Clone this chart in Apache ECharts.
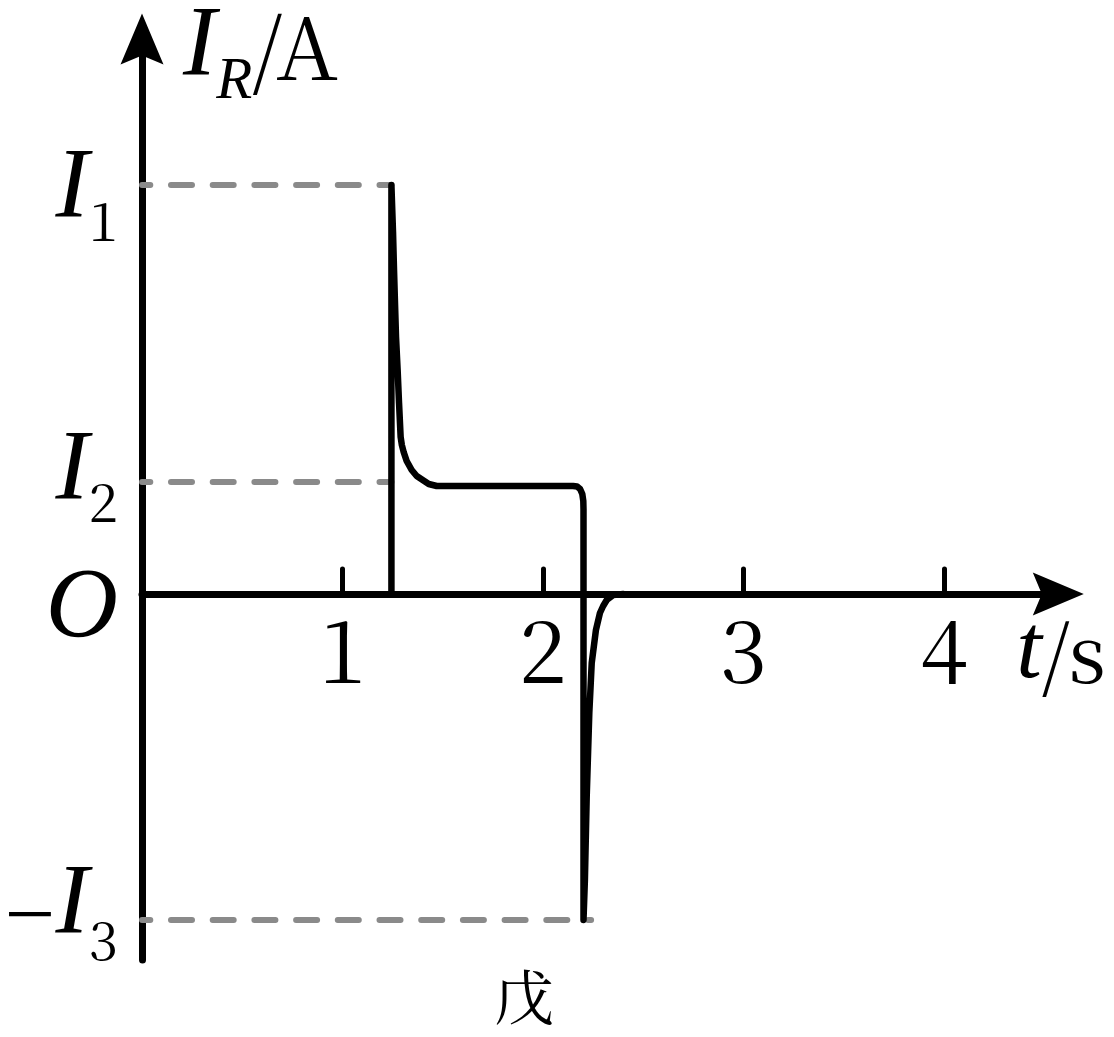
<!DOCTYPE html>
<html>
<head>
<meta charset="utf-8">
<script src="https://cdn.jsdelivr.net/npm/echarts@6/dist/echarts.min.js"></script>
<style>
  html, body { margin: 0; padding: 0; background: #ffffff; }
  #chart { width: 1114px; height: 1037px; }
</style>
</head>
<body>
<div id="chart"></div>
<script>
// ---- data ----
const xTickValues = [1, 2, 3, 4];
const xTickLabels = ['1', '2', '3', '4'];
const yTickValues = [4.09, 1.12, 0, -3.26];
const yTickLabels = ['I1', 'I2', 'O', '−I3'];
const xAxisName = 't/s';
const yAxisName = 'IR/A';
const figureTitle = '戊';

const curveT = [1.244, 1.244, 1.252, 1.257, 1.262, 1.267, 1.275, 1.282, 1.290, 1.296, 1.305, 1.320, 1.345, 1.370, 1.400, 1.430, 1.470,
                2.150, 2.170, 2.185, 2.196, 2.201, 2.202, 2.202,
                2.209, 2.218, 2.231, 2.243, 2.264, 2.284, 2.300, 2.318, 2.351, 2.400];
const curveI = [0, 4.09, 3.62, 3.24, 2.90, 2.57, 2.24, 1.91, 1.57, 1.49, 1.42, 1.33, 1.24, 1.18, 1.14, 1.10, 1.08,
                1.08, 1.075, 1.05, 1.00, 0.93, 0.85, -3.26,
                -2.86, -2.03, -1.19, -0.69, -0.36, -0.19, -0.12, -0.06, -0.01, 0];

const dashI1 = [[0, 4.09], [1.244, 4.09]];
const dashI2 = [[0, 1.12], [1.244, 1.12]];
const dashI3 = [[0, -3.26], [2.24, -3.26]];

// ---- chart ----
const serifItalic = 'Liberation Serif';
const serifUpright = 'Noto Serif CJK SC';
const chart = echarts.init(document.getElementById('chart'), null, { renderer: 'canvas' });

const arrowPath = 'path://M0,0 L21.5,51 L0,42 L-21.5,51 Z';

const yMin = -3.66, yMax = 5.55, pxPerY = 100;
const xMax = 4.57, pxPerX = 200.5;

function yLabelFormatter(value) {
  let idx = -1;
  for (let k = 0; k < yTickValues.length; k++) {
    if (Math.abs(yTickValues[k] - value) < 1e-6) idx = k;
  }
  if (idx < 0) return '';
  const lab = yTickLabels[idx];
  if (lab === 'O') return '{o|O}';
  if (lab.charAt(0) === '−') return '{mu|−}{iv|I}{su|' + lab.slice(2) + '}';
  if (idx === 0) return '{i|I}{s|' + lab.slice(1) + '}';
  return '{iu|I}{su|' + lab.slice(1) + '}';
}

const dashStyle = {
  color: '#8a8a8a', width: 6, type: [21, 20.7], dashOffset: 12.7, cap: 'round'
};

function xy(ts, is) { return ts.map((t, k) => [t, is[k]]); }

const zeroToBottom = (0 - yMin) * pxPerY;

function roman(size, extra) {
  return Object.assign({ fontFamily: serifUpright, fontWeight: 'normal', fontSize: size, color: '#000' }, extra || {});
}
function italic(size, extra) {
  return Object.assign({ fontFamily: serifItalic, fontStyle: 'italic', fontWeight: 'normal', fontSize: size, color: '#000' }, extra || {});
}

const option = {
  backgroundColor: '#ffffff',
  animation: false,
  title: {
    text: figureTitle,
    left: 519,
    top: 962,
    textAlign: 'center',
    textStyle: { fontFamily: 'Noto Serif CJK SC', fontSize: 60, fontWeight: 'normal', color: '#000' }
  },
  grid: {
    left: 142, top: 39, width: xMax * pxPerX, height: (yMax - yMin) * pxPerY,
    containLabel: false, outerBoundsMode: 'none'
  },
  xAxis: {
    type: 'value', min: 0, max: xMax, interval: 1,
    splitLine: { show: false },
    axisLine: {
      show: true, onZero: true,
      symbol: ['none', arrowPath], symbolSize: [43, 51],
      lineStyle: { color: '#000', width: 7 }
    },
    axisTick: {
      show: true, inside: true, length: 25, customValues: xTickValues,
      lineStyle: { color: '#000', width: 5, cap: 'round' }
    },
    axisLabel: {
      show: true, customValues: xTickValues, margin: 6 - zeroToBottom,
      hideOverlap: false,
      formatter: (v) => { const k = xTickValues.indexOf(v); return k >= 0 ? '{d|' + xTickLabels[k] + '}' : ''; },
      verticalAlign: 'top',
      fontFamily: serifUpright, fontWeight: 'normal', fontSize: 86, color: '#000',
      rich: { d: roman(86, { lineHeight: 100 }) }
    },
    name: xAxisName, nameLocation: 'end', nameGap: -42,
    nameTextStyle: {
      align: 'left', verticalAlign: 'middle', padding: [118, 0, 0, 0],
      fontFamily: serifUpright, fontWeight: 'normal',
      rich: { t: italic(92), n: roman(80) }
    }
  },
  yAxis: {
    type: 'value', min: yMin, max: yMax,
    splitLine: { show: false },
    axisLine: {
      show: true,
      symbol: ['none', arrowPath], symbolSize: [43, 51],
      lineStyle: { color: '#000', width: 7 }
    },
    axisTick: { show: false },
    axisLabel: {
      show: true, customValues: yTickValues, margin: 24,
      formatter: yLabelFormatter,
      fontFamily: serifUpright, fontWeight: 'normal',
      rich: {
        i: italic(100, { lineHeight: 100, padding: [10, 0, 0, 0] }),
        s: roman(53, { lineHeight: 60, padding: [72, 0, 0, 0] }),
        iu: italic(100, { lineHeight: 100, padding: [0, 0, 20, 0] }),
        iv: italic(100, { lineHeight: 100, padding: [0, 0, 28, 0] }),
        su: roman(53, { lineHeight: 60, padding: [40, 0, 0, 0] }),
        mu: italic(90, { fontStyle: 'normal', lineHeight: 100 }),
        o: italic(100, { lineHeight: 100, padding: [32, 0, 0, 0] })
      }
    },
    name: '', nameLocation: 'end', nameGap: -16,
    nameTextStyle: {
      align: 'left', verticalAlign: 'middle', padding: [0, 0, 0, 41],
      fontFamily: serifUpright, fontWeight: 'normal',
      rich: {
        i: italic(100, { lineHeight: 80, padding: [0, 0, 14.5, 0] }),
        s: italic(59, { lineHeight: 40, padding: [54.5, 0, 0, 0] }),
        n: roman(86, { lineHeight: 80, padding: [0, 0, 14.5, 0] })
      }
    }
  },
  series: [
    { type: 'line', data: dashI1, showSymbol: false, silent: true, z: 1, lineStyle: dashStyle },
    { type: 'line', data: dashI2, showSymbol: false, silent: true, z: 1, lineStyle: dashStyle },
    { type: 'line', data: dashI3, showSymbol: false, silent: true, z: 1, lineStyle: dashStyle },
    {
      type: 'line', data: xy(curveT, curveI), showSymbol: false, silent: true, z: 3,
      lineStyle: { color: '#000', width: 6.5, join: 'round', cap: 'round' }
    }
  ]
};
option.xAxis.name = '{t|' + xAxisName.charAt(0) + '}{n|' + xAxisName.slice(1) + '}';
option.yAxis.name = '{i|' + yAxisName.charAt(0) + '}{s|' + yAxisName.charAt(1) + '}{n|' + yAxisName.slice(2) + '}';
chart.setOption(option);
</script>
</body>
</html>
